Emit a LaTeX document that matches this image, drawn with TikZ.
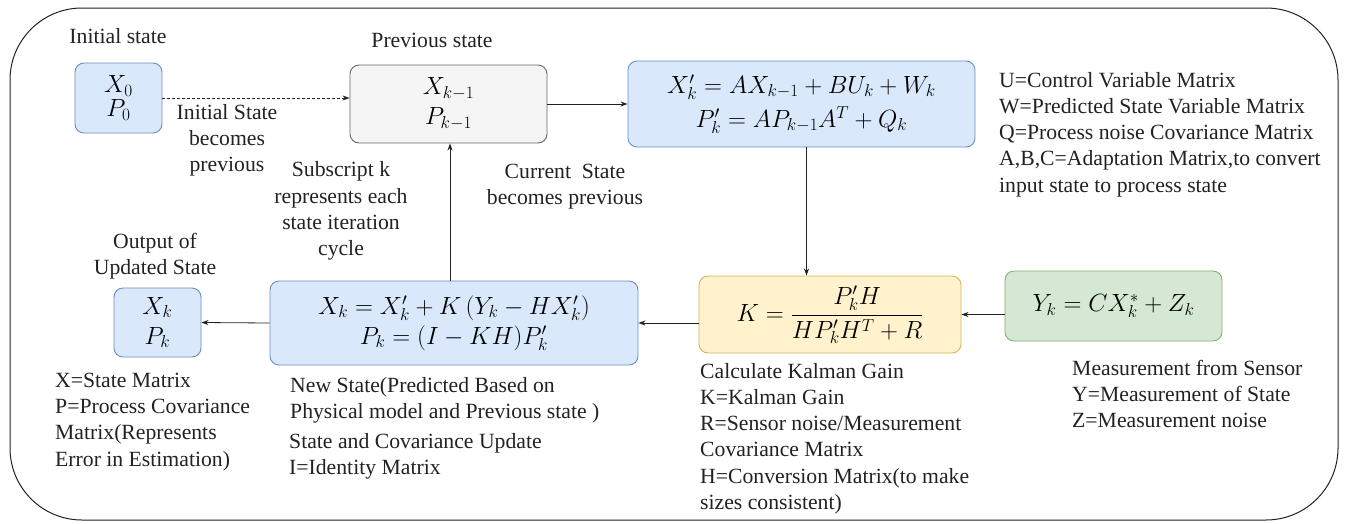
\documentclass[tikz,border=0pt]{standalone}
\usepackage{fontspec}
\setmainfont{Liberation Serif}
\usetikzlibrary{arrows.meta}
\definecolor{blueFill}{HTML}{DAE8FC}
\definecolor{blueLine}{HTML}{6C8EBF}
\definecolor{grayFill}{HTML}{F5F5F5}
\definecolor{grayLine}{HTML}{666666}
\definecolor{yellowFill}{HTML}{FFF2CC}
\definecolor{yellowLine}{HTML}{D6B656}
\definecolor{greenFill}{HTML}{D5E8D4}
\definecolor{greenLine}{HTML}{82B366}
\definecolor{ink}{HTML}{222222}
\tikzset{
  stagebox/.style={draw, rounded corners=9pt, line width=0.9pt, align=center, inner sep=0pt,
    font=\fontsize{23}{28}\selectfont},
  bluebox/.style={stagebox, fill=blueFill, draw=blueLine},
  graybox/.style={stagebox, fill=grayFill, draw=grayLine},
  yellowbox/.style={stagebox, fill=yellowFill, draw=yellowLine},
  greenbox/.style={stagebox, fill=greenFill, draw=greenLine},
  note/.style={text=ink, inner sep=0pt, font=\fontsize{21.7}{26.2}\selectfont},
  cnote/.style={note, align=center},
  lnote/.style={note, align=left, anchor=north west},
  flow/.style={draw=ink, line width=0.8pt, -{Stealth[length=7pt,width=5pt]}},
}
\begin{document}
\begin{tikzpicture}[x=1pt,y=-1pt]
\useasboundingbox (0,0) rectangle (1346,523);
% outer frame
\draw[rounded corners=72pt, line width=1pt, draw=ink] (10,8) rectangle (1338,520);

% state boxes
\node[bluebox, minimum width=87pt, minimum height=70pt] (init) at (118.5,98)
  {$X_0$\\[-4pt]$P_0$};
\node[graybox, minimum width=197pt, minimum height=78pt] (prev) at (448.5,104)
  {$X_{k-1}$\\[2pt]$P_{k-1}$};
\node[bluebox, minimum width=347pt, minimum height=86pt] (pred) at (801.5,104)
  {$X'_k = AX_{k-1} + BU_k + W_k$\\[6pt]$P'_k = AP_{k-1}A^T + Q_k$};
\node[yellowbox, minimum width=262pt, minimum height=77pt] (kal) at (830,314.5)
  {$\displaystyle K = \frac{P'_k H}{HP'_k H^T + R}$};
\node[greenbox, minimum width=217pt, minimum height=70pt] (meas) at (1113.5,306)
  {$Y_k = CX^*_k + Z_k$};
\node[bluebox, minimum width=368pt, minimum height=84pt] (upd) at (454,323)
  {$X_k = X'_k + K\,\bigl(Y_k - HX'_k\bigr)$\\[2pt]$P_k = (I - KH)P'_k$};
\node[bluebox, minimum width=87pt, minimum height=69pt] (out) at (157.5,322.5)
  {$X_k$\\[2pt]$P_k$};

% connectors
\draw[flow, dashed, dash pattern=on 3pt off 2pt] (init.east) -- (init.east -| prev.west);
\draw[flow] (prev) -- (pred);
\draw[flow] ([xshift=5pt]pred.south) -- ([xshift=5pt]pred.south |- kal.north);
\draw[flow] (meas.west |- kal) -- (kal.east);
\draw[flow] (kal.west |- upd) -- (upd.east);
\draw[flow] ([xshift=-4pt]upd.north) -- ([xshift=-4pt]upd.north |- prev.south);
\draw[flow] (upd.west) -- (out.east);

% labels
\node[cnote] (tInit) at (118,36) {Initial state};
\node[cnote] (tPrev) at (432,40) {Previous state};
\node[cnote] (tInitPrev) at (227,140) {Initial State\\becomes\\previous};
\node[cnote] (tSub) at (341,211) {Subscript k\\represents each\\state iteration\\cycle};
\node[cnote] (tCur) at (565,187) {Current\ \ State\\becomes previous};
\node[cnote] (tOut) at (155,256) {Output of\\Updated State};

\node[lnote] (nRight) at (999,72) {U=Control Variable Matrix\\W=Predicted State Variable Matrix\\Q=Process noise Covariance Matrix\\A,B,C=Adaptation Matrix,to convert\\input state to process state};
\node[lnote] (nOut) at (55,373) {X=State Matrix\\P=Process Covariance\\Matrix(Represents\\Error in Estimation)};
\node[lnote] (nUpd) at (290,377) {New State(Predicted Based on\\Physical model and Previous state )};
\node[lnote] (nUpd2) at (289,433) {State and Covariance Update\\I=Identity Matrix};
\node[lnote] (nKal) at (700,363) {Calculate Kalman Gain\\K=Kalman Gain\\R=Sensor noise/Measurement\\Covariance Matrix\\H=Conversion Matrix(to make\\sizes consistent)};
\node[lnote] (nMeas) at (1072,360) {Measurement from Sensor\\Y=Measurement of State\\Z=Measurement noise};
\end{tikzpicture}
\end{document}
